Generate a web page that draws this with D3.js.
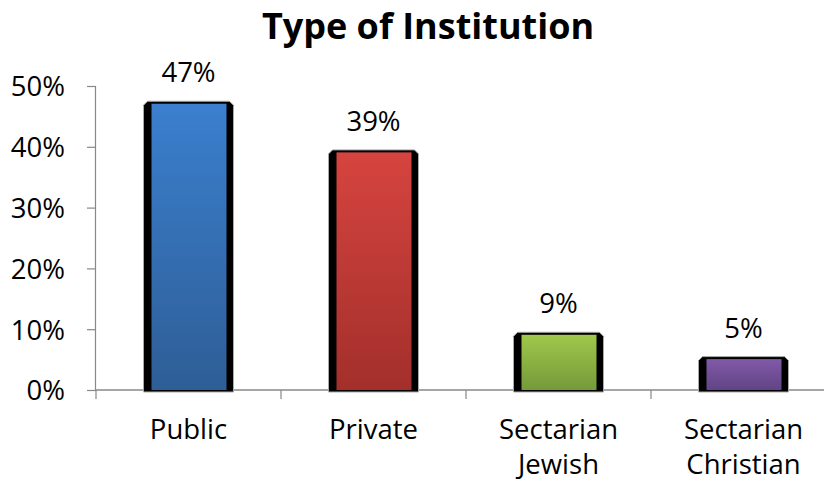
<!DOCTYPE html>
<html><head><meta charset="utf-8">
<script src="https://cdn.jsdelivr.net/npm/d3@7"></script>
<style>body{margin:0;background:#fff}svg{display:block}</style>
</head><body>
<svg id="c" width="824" height="483"></svg>
<script>
const categories = [["Public"], ["Private"], ["Sectarian", "Jewish"], ["Sectarian", "Christian"]];
const values = [47, 39, 9, 5];
const yTicks = [0, 10, 20, 30, 40, 50];
const topColors = ["#3B7FCE", "#D6443F", "#9FC84B", "#8159A8"];
const bottomColors = ["#2E5E96", "#A32F2B", "#76993A", "#614485"];
const title = "Type of Institution";

const FONT = "'Open Sans', 'Liberation Sans', sans-serif";
const FS = 27.5;
const svg = d3.select("#c");
const x0 = 96, step = 185, yBase = 390;
const x = d3.scaleBand().domain(d3.range(categories.length)).range([x0, x0 + step * categories.length]).padding(0);
const y = d3.scaleLinear().domain([0, 50]).range([yBase, 86]);

const defs = svg.append("defs");
values.forEach((v, i) => {
  const g = defs.append("linearGradient").attr("id", "g" + i).attr("x1", 0).attr("y1", 0).attr("x2", 0).attr("y2", 1);
  g.append("stop").attr("offset", "0%").attr("stop-color", topColors[i]);
  g.append("stop").attr("offset", "100%").attr("stop-color", bottomColors[i]);
});

// title
svg.append("text").attr("x", 428).attr("y", 39).attr("text-anchor", "middle")
  .attr("font-family", FONT).attr("font-weight", "bold").attr("font-size", 36).attr("fill", "#000").text(title);

// y axis
const yAxis = svg.append("g").attr("transform", `translate(${x0},0)`)
  .call(d3.axisLeft(y).tickValues(yTicks).tickSize(9).tickFormat(d => d + "%"));
yAxis.select(".domain").attr("stroke", "#888").attr("stroke-width", 1.2).attr("d", `M-0.5,${y(50)}V${yBase}`);
yAxis.selectAll(".tick line").attr("stroke", "#888").attr("stroke-width", 1.2);
yAxis.selectAll(".tick text").attr("font-family", FONT).attr("font-size", FS).attr("fill", "#000").attr("x", -31).attr("dy", "0.36em");

// x axis baseline and ticks
svg.append("line").attr("x1", x0).attr("x2", 824).attr("y1", yBase).attr("y2", yBase).attr("stroke", "#888").attr("stroke-width", 1.5);
d3.range(categories.length + 1).forEach(i => {
  const xx = x0 + i * step;
  svg.append("line").attr("x1", xx).attr("x2", xx).attr("y1", yBase).attr("y2", yBase + 9).attr("stroke", "#888").attr("stroke-width", 1.2);
});

// bars
const bw = 90;
const bars = svg.append("g").selectAll("g").data(values).join("g");
bars.each(function (v, i) {
  const g = d3.select(this);
  const cx = x(i) + x.bandwidth() / 2;
  const l = cx - bw / 2, r = cx + bw / 2, t = y(v) - 3, b = yBase + 2, c = 4;
  g.append("path").attr("d", `M${l},${b}V${t + c}L${l + c},${t}H${r - c}L${r},${t + c}V${b}Z`)
    .attr("fill", "#000").attr("stroke", "#aaa").attr("stroke-width", 1);
  g.append("rect").attr("x", l + 8).attr("y", y(v) - 0.5).attr("width", bw - 15).attr("height", yBase - y(v) + 0.5)
    .attr("fill", `url(#g${i})`);
  g.append("text").attr("x", cx).attr("y", y(v) - 22).attr("text-anchor", "middle")
    .attr("font-family", FONT).attr("font-size", FS).attr("fill", "#000").text(v + "%");
});

// category labels
categories.forEach((lines, i) => {
  const cx = x(i) + x.bandwidth() / 2;
  lines.forEach((s, k) => svg.append("text").attr("x", cx).attr("y", 439 + k * 35)
    .attr("text-anchor", "middle").attr("font-family", FONT).attr("font-size", FS).attr("fill", "#000").text(s));
});
</script>
</body></html>
